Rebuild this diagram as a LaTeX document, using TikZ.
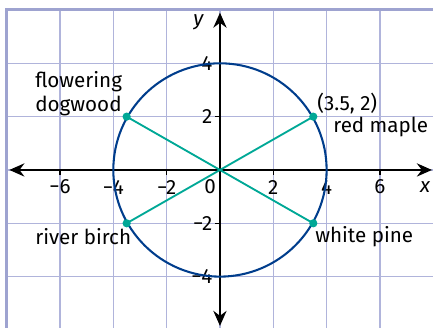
\documentclass[tikz,border=0pt]{standalone}
\usepackage{fontspec}
\setmainfont{Fira Sans}
\usetikzlibrary{arrows.meta}
\definecolor{gridblue}{RGB}{176,180,219}
\definecolor{frameblue}{RGB}{158,163,208}
\definecolor{circblue}{RGB}{0,61,140}
\definecolor{treeteal}{RGB}{0,168,150}
\begin{document}
\begin{tikzpicture}[x=0.5cm, y=0.5cm, every node/.style={font=\fontsize{11}{12.5}\selectfont},
  axis/.style={line width=1.3pt, {Stealth[length=8pt,width=7pt]}-{Stealth[length=8pt,width=7pt]}},
  tree/.style={treeteal, line width=1pt},
  lbl/.style={anchor=west, align=left, inner sep=0pt}]
  \useasboundingbox (-8.25,-5.89) rectangle (7.99,6.375);
  \clip (-8.25,-5.89) rectangle (7.99,6.375);
  \draw[gridblue, line width=0.6pt] (-8,-7) grid (9,6);
  \draw[frameblue, line width=1.6pt] (-8,-7) -- (-8,6) -- (9,6);

  \draw[axis] (-7.9,0) -- (7.95,0);
  \draw[axis] (0,-5.85) -- (0,5.9);
  \foreach \x/\t in {-6/−6,-4/−4,-2/−2,2/2,4/4,6/6} {
    \draw[line width=0.8pt] (\x,0) -- (\x,-0.2);
    \node at (\x,-0.64) {\t};
  }
  \foreach \y/\t in {-4/−4,-2/−2,2/2,4/4} {
    \draw[line width=0.8pt] (0,\y) -- (-0.2,\y);
    \node[anchor=east, inner sep=1pt] at (-0.2,\y) {\t};
  }
  \node at (-0.37,-0.64) {0};
  \node at (7.7,-0.64) {\textit{x}};
  \node at (-0.8,5.55) {\textit{y}};

  \draw[circblue, line width=1.1pt] (0,0) circle (4);

  \coordinate (rm) at (3.5,2);
  \coordinate (fd) at (-3.5,2);
  \coordinate (rb) at (-3.5,-2);
  \coordinate (wp) at (3.5,-2);
  \draw[tree] (fd) -- (wp);
  \draw[tree] (rb) -- (rm);
  \foreach \p in {rm,fd,rb,wp}
    \fill[treeteal] (\p) circle (2.2pt);

  \node[lbl] (fdl) at (-6.94,2.87) {flowering\\dogwood};
  \node[lbl] (rmc) at (3.64,2.51) {(3.5, 2)};
  \node[lbl] (rml) at (4.24,1.61) {red maple};
  \node[lbl] (rbl) at (-6.94,-2.51) {river birch};
  \node[lbl] (wpl) at (3.56,-2.51) {white pine};
\end{tikzpicture}
\end{document}
